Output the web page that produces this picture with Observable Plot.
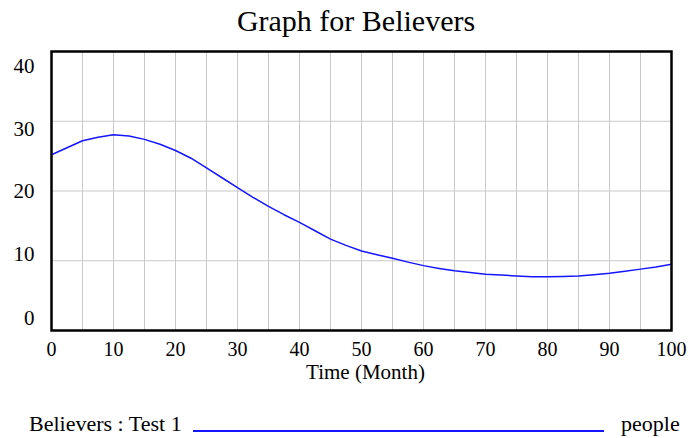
<!DOCTYPE html>
<html>
<head>
<meta charset="utf-8">
<script src="https://cdn.jsdelivr.net/npm/d3@7"></script>
<script src="https://cdn.jsdelivr.net/npm/@observablehq/plot@0.6"></script>
<style>
  html, body { margin: 0; padding: 0; background: #fff; }
  body, body * { font-family: "Liberation Serif", "Times New Roman", "DejaVu Serif", serif !important; }
  body { width: 690px; height: 438px; overflow: hidden; color: #000; }
  #title { height: 40px; line-height: 40px; padding-top: 1px; box-sizing: border-box; padding-left: 22px; text-align: center; font-size: 30px; }
  #chart svg { display: block; }
  #chart svg text { font-family: "Liberation Serif", "Times New Roman", serif !important; }
  #legend { position: relative; height: 48px; font-size: 22px; }
  #legend span { position: absolute; top: 23px; line-height: 22px; white-space: nowrap; }
  #legend .swatch { position: absolute; top: 40px; height: 2px; background: #1515ff; }
</style>
</head>
<body>
<div id="title">Graph for Believers</div>
<div id="chart"></div>
<div id="legend">
  <span id="lgLabel" style="left:29px"></span>
  <div class="swatch" style="left:193px; width:411px"></div>
  <span id="lgUnit" style="left:621px"></span>
</div>
<script>
// ---- data ----
const months = [0, 2.5, 5, 7.5, 10, 12.5, 15, 17.5, 20, 22.5, 25, 27.5, 30, 32.5, 35, 37.5, 40, 42.5, 45, 47.5, 50,
  52.5, 55, 57.5, 60, 62.5, 65, 67.5, 70, 72.5, 75, 77.5, 80, 82.5, 85, 87.5, 90, 92.5, 95, 97.5, 100];
const believers = [25.2, 26.2, 27.2, 27.7, 28.05, 27.9, 27.4, 26.7, 25.8, 24.7, 23.3, 21.9, 20.5, 19.1, 17.8, 16.6, 15.5, 14.3, 13.1, 12.2, 11.4,
  10.85, 10.35, 9.8, 9.3, 8.9, 8.55, 8.3, 8.07, 7.95, 7.83, 7.72, 7.69, 7.75, 7.83, 8.0, 8.2, 8.5, 8.8, 9.1, 9.5];
const xTickLabels = [0, 10, 20, 30, 40, 50, 60, 70, 80, 90, 100];
const xGridValues = [0, 5, 10, 15, 20, 25, 30, 35, 40, 45, 50, 55, 60, 65, 70, 75, 80, 85, 90, 95, 100];
const yTickLabels = [0, 10, 20, 30, 40];
const seriesName = "Believers : Test 1";
const unitName = "people";
const xTitle = "Time (Month)";

// ---- layout (vertical offsets of the y tick labels, Vensim-style spread) ----
const yLabelShift = {0: -12.7, 10: -6.2, 20: 0.3, 30: 7.8, 40: 14.3};

const rows = months.map((m, i) => ({month: m, value: believers[i]}));

const serif = '"Liberation Serif", "Times New Roman", serif';
const fontSize = 21;
const chart = Plot.plot({
  width: 690,
  height: 350,
  marginTop: 11,
  marginBottom: 60,
  marginLeft: 51,
  marginRight: 19,
  style: {fontFamily: serif, fontSize: fontSize + "px", color: "#000", background: "#fff"},
  x: {domain: [0, 100]},
  y: {domain: [0, 40]},
  marks: [
    Plot.gridX(xGridValues, {stroke: "#c8c8c8", strokeOpacity: 1, strokeWidth: 1}),
    Plot.gridY(yTickLabels, {stroke: "#c8c8c8", strokeOpacity: 1, strokeWidth: 1}),
    Plot.axisX(xTickLabels, {tickSize: 0, tickPadding: 11, label: null, fontSize: 20, fontFamily: serif}),
    ...yTickLabels.map(t => Plot.axisY([t], {tickSize: 0, tickPadding: 17, label: null, fontSize: fontSize, fontFamily: serif, dy: yLabelShift[t]})),
    Plot.text([xTitle], {frameAnchor: "bottom", lineAnchor: "top", dy: 34, dx: 4, fontSize: fontSize, fontFamily: serif}),
    Plot.line(rows, {x: "month", y: "value", stroke: "#1515ff", strokeWidth: 1.5}),
    Plot.frame({stroke: "#000", strokeWidth: 2.5})
  ]
});
document.getElementById("chart").appendChild(chart);
document.getElementById("lgLabel").textContent = seriesName;
document.getElementById("lgUnit").textContent = unitName;
</script>
</body>
</html>
